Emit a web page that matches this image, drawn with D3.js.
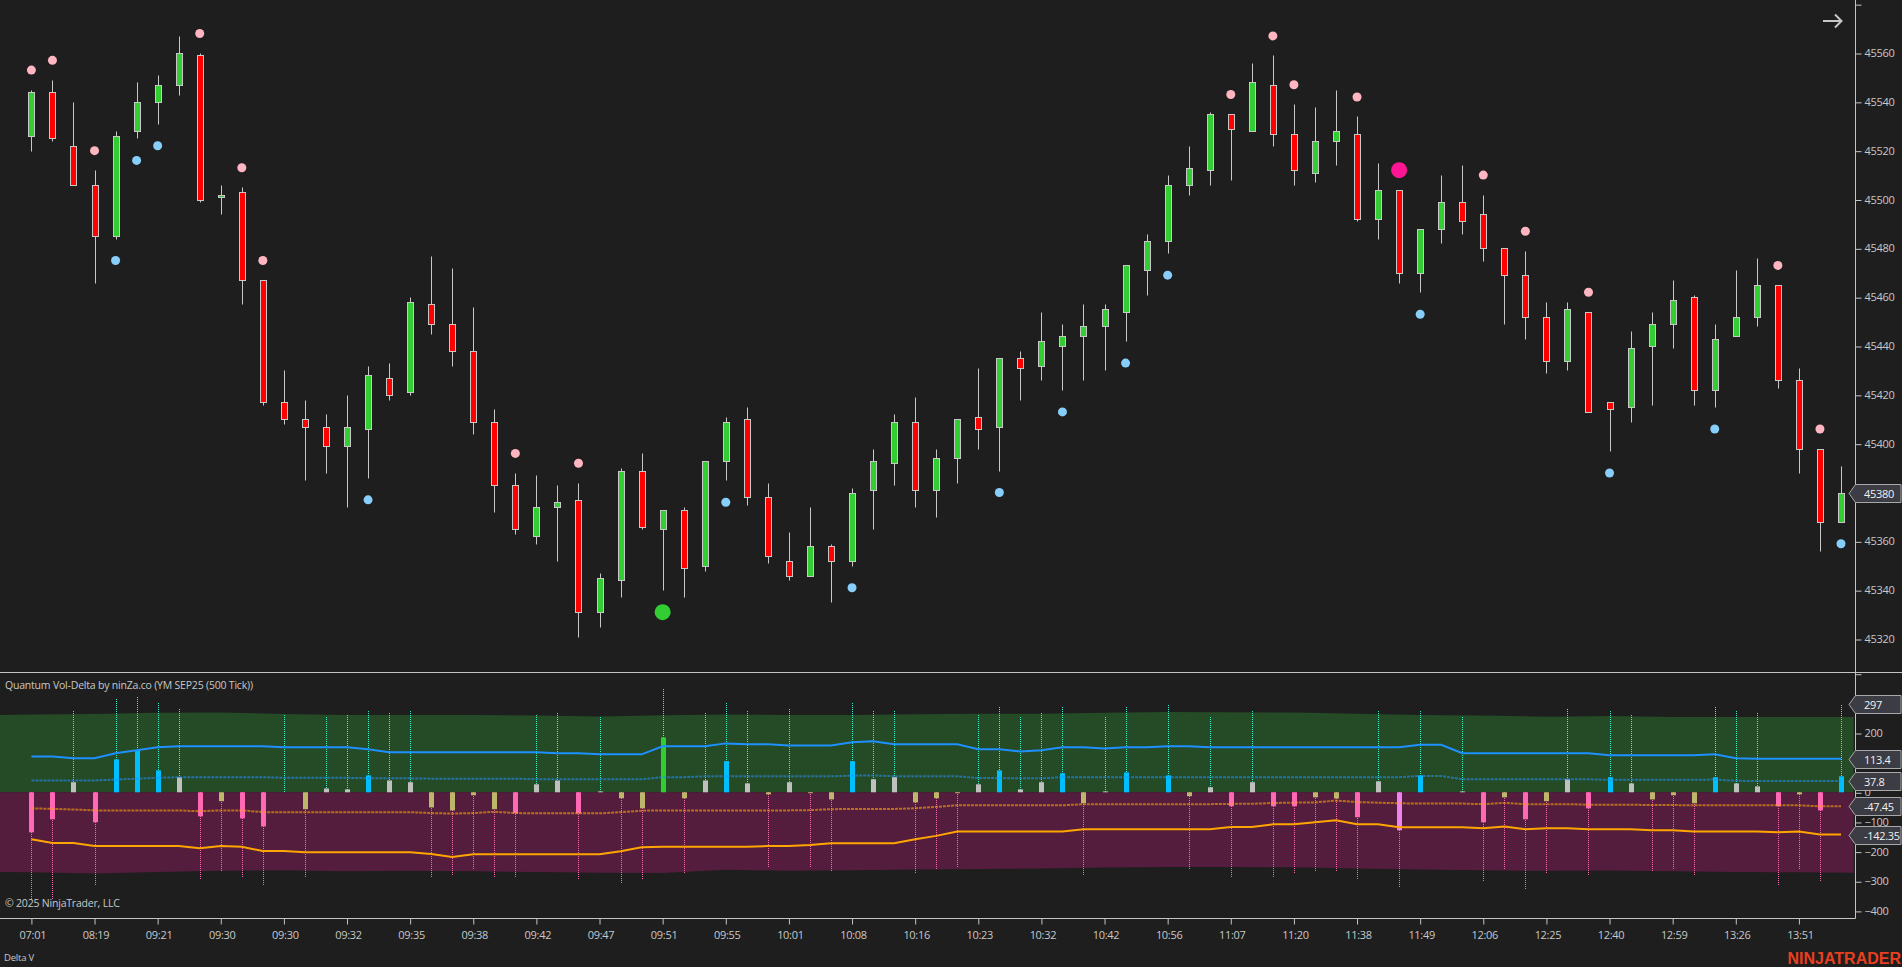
<!DOCTYPE html>
<html>
<head>
<meta charset="utf-8">
<title>YM SEP25 (500 Tick)</title>
<script src="https://cdn.jsdelivr.net/npm/d3@7"></script>
<style>
  html, body { margin: 0; padding: 0; background: #1e1e1e; overflow: hidden; }
  svg { display: block; }
  text { font-family: "Open Sans", sans-serif; }
</style>
</head>
<body>
<div id="app"></div>
<script>
// candles, one entry per bar
const opens = [45526,45544,45522,45506,45485,45528,45540,45547,45559,45501,
  45503,45467,45417,45410,45407,45399,45406,45427,45421,45457,
  45449,45438,45409,45383,45362,45374,45377,45331,45344,45389,
  45365,45373,45350,45393,45410,45378,45352,45346,45358,45352,
  45381,45392,45409,45381,45394,45411,45407,45435,45432,45440,
  45444,45448,45454,45471,45483,45506,45512,45535,45528,45547,
  45527,45511,45524,45527,45492,45504,45470,45488,45499,45494,
  45480,45469,45452,45434,45454,45417,45415,45440,45449,45460,
  45422,45444,45452,45465,45426,45398,45368]
const highs = [45545,45549,45540,45512,45528,45548,45551,45567,45560,45506,
  45505,45467,45430,45418,45412,45420,45432,45433,45460,45477,
  45472,45456,45414,45388,45387,45383,45384,45347,45390,45396,
  45373,45374,45393,45411,45415,45384,45364,45374,45359,45382,
  45398,45412,45419,45398,45410,45431,45435,45438,45454,45449,
  45457,45457,45473,45486,45510,45522,45536,45535,45556,45559,
  45539,45538,45545,45534,45515,45504,45488,45510,45514,45502,
  45480,45479,45458,45458,45454,45417,45446,45454,45467,45461,
  45449,45471,45476,45465,45431,45398,45391]
const lows = [45520,45524,45506,45466,45484,45525,45531,45543,45499,45494,
  45457,45416,45408,45385,45388,45374,45386,45418,45420,45445,
  45432,45404,45372,45363,45359,45352,45321,45325,45337,45365,
  45340,45337,45348,45385,45375,45351,45344,45346,45335,45350,
  45365,45383,45374,45370,45384,45398,45389,45418,45426,45422,
  45426,45430,45442,45461,45478,45502,45506,45508,45528,45522,
  45506,45507,45514,45491,45484,45466,45462,45482,45486,45475,
  45449,45443,45429,45430,45413,45397,45409,45416,45439,45416,
  45415,45444,45448,45423,45388,45356,45368]
const closes = [45544,45525,45506,45485,45526,45540,45547,45560,45500,45502,
  45467,45417,45410,45407,45399,45407,45428,45420,45458,45449,
  45438,45409,45383,45365,45374,45376,45331,45345,45389,45366,
  45373,45349,45393,45409,45378,45354,45346,45358,45352,45380,
  45393,45409,45381,45394,45410,45406,45435,45431,45442,45444,
  45448,45455,45473,45483,45506,45513,45535,45529,45548,45527,
  45512,45524,45528,45492,45504,45470,45488,45499,45491,45480,
  45469,45452,45434,45455,45413,45414,45439,45449,45459,45422,
  45443,45452,45465,45426,45398,45368,45380]

// signal dots [bar, price]
const pinkDots = [[0,45553],[1,45557],[3,45520],[8,45568],[10,45513],[11,45475],[23,45396],[26,45392],
  [57,45543],[59,45567],[60,45547],[63,45542],[69,45510],[71,45487],[74,45462],[83,45473],[85,45406]]
const blueDots = [[4,45475],[5,45516],[6,45522],[16,45377],[33,45376],[39,45341],[46,45380],[49,45413],
  [52,45433],[54,45469],[66,45453],[75,45388],[80,45406],[86,45359]]
const bigDots = [[30,45331,"#32cd32"],[65,45512,"#ff1493"]]

// lower panel, delta bars
const deltaVals = [-135,-91,34,-101,111,142,74,51,-81,-30,
  -88,-115,null,-57,13,10,57,40,34,-51,
  -61,-10,-57,-71,27,40,-71,3,-20,-54,
  185,-20,40,105,30,-7,34,-3,-24,105,
  44,51,-34,-20,-3,27,74,10,34,64,
  -37,3,67,null,57,-13,17,-47,34,-47,
  -47,-17,-21,-84,37,-128,57,null,3,-101,
  -17,-91,-30,44,-54,51,30,-24,-10,-37,
  51,30,20,-47,-7,-61,54]
const deltaKinds = "ppgpbbbgpk" + "pp-kggbggk" + "kkkpggpgkk" + "lkgbgkgkkb" + "ggkkkgbggb" +
  "kgb-bkgpgp" + "pkkpgvb-gp" + "kpkgpbgkkk" + "bggpkpb"
const deltaExtremes = [-364,-364,279,-317,319,326,306,285,-297,-270,
  -290,-317,265,-290,259,265,279,272,279,-290,
  -283,-263,-290,-290,265,272,-297,259,-310,-297,
  353,-276,272,306,279,-256,285,-256,-270,306,
  279,279,-276,-263,-256,265,292,259,272,292,
  -283,259,292,null,299,-263,259,-290,279,-290,
  -276,-270,-270,-297,279,-324,279,null,259,-303,
  -263,-330,-276,285,-283,279,265,-270,-263,-283,
  292,279,272,-317,-263,-303,297]

// lower panel, lines
const upperLine = [121,121,115,115,132,142,152,155,155,155,
  155,155,152,152,152,152,145,135,135,135,
  135,135,135,135,135,132,132,128,128,128,
  155,155,155,165,162,162,158,158,158,169,
  172,162,162,162,162,145,145,138,142,152,
  152,148,152,152,155,155,152,152,152,152,
  152,152,152,152,152,152,160,160,132,132,
  132,132,132,132,132,125,125,125,125,125,
  128,115,113.4,113.4,113.4,113.4,113.4]
const upperDash = [40,40,40,40,43,46,49,51,51,51,
  51,51,49,49,49,49,47,47,47,46,
  46,46,46,46,44,44,44,44,44,44,
  51,51,54,54,54,54,54,54,54,56,
  57,54,54,54,54,48,48,47,47,51,
  51,51,51,51,51,51,51,51,51,51,
  51,51,51,51,51,51,55,55,44,44,
  44,44,44,44,44,42,42,42,42,42,
  43,39,37.8,37.8,37.8,37.8,37.8]
const lowerLine = [-158,-171,-171,-181,-181,-181,-181,-181,-189,-181,
  -184,-198,-198,-202,-202,-202,-202,-202,-202,-208,
  -218,-209,-209,-209,-209,-209,-209,-209,-199,-185,
  -184,-184,-184,-184,-184,-181,-181,-178,-172,-172,
  -172,-172,-158,-147,-132,-132,-132,-132,-132,-132,
  -125,-125,-125,-125,-125,-125,-125,-117,-117,-108,
  -108,-101,-94,-108,-108,-118,-118,-118,-118,-121,
  -115,-125,-121,-121,-125,-125,-125,-128,-128,-132,
  -132,-132,-132,-135,-132,-142.35,-142.35]
const lowerDash = [-54,-56,-58,-61,-61,-61,-61,-61,-64,-61,
  -61,-67,-67,-67,-67,-67,-67,-67,-67,-70,
  -72,-70,-66,-70,-71,-71,-71,-71,-67,-62,
  -61,-61,-61,-61,-61,-61,-61,-60,-57,-56,
  -56,-56,-54,-49,-44,-44,-44,-44,-44,-44,
  -40,-40,-40,-40,-40,-40,-40,-39,-39,-36,
  -35,-34,-28,-33,-35,-37,-38,-38,-38,-40,
  -36,-40,-40,-40,-42,-42,-42,-43,-43,-44,
  -44,-44,-44,-44,-44,-47.45,-47.45]

// bands, read every third bar and at both ends of the panel
const bandBars = [-1.5,0,3,6,9,12,15,18,21,24,27,30,33,36,39,42,45,48,51,54,57,60,63,66,69,72,75,78,81,84,86.6]
const bandTop = [261,262,264,268,269,264,261,261,261,259,256,260,262,261,261,263,265,265,268,271,270,269,265,261,259,255,257,254,254,254,254]
const bandBottom = [-269,-270,-274,-269,-265,-263,-266,-265,-266,-269,-271,-272,-261,-265,-263,-260,-259,-257,-254,-252,-252,-253,-257,-260,-263,-265,-264,-266,-269,-270,-271]

// axes
const timeTicks = [0,3,6,9,12,15,18,21,24,27,30,33,36,39,42,45,48,51,54,57,60,63,66,69,72,75,78,81,84]
const timeLabels = ["07:01","08:19","09:21","09:30","09:30","09:32","09:35","09:38","09:42","09:47",
  "09:51","09:55","10:01","10:08","10:16","10:23","10:32","10:42","10:56","11:07",
  "11:20","11:38","11:49","12:06","12:25","12:40","12:59","13:26","13:51"]
const priceTicks = [45320,45340,45360,45380,45400,45420,45440,45460,45480,45500,45520,45540,45560,45580]
const deltaTicks = [400,300,200,100,0,-100,-200,-300,-400]
const deltaHiddenLabels = [400,300,100] // tick only, the tags sit on these
const deltaTagLabels = ["297","113.4","37.8","-47.45","-142.35"]
const deltaTagValues = [297,113.4,37.8,-47.45,-142.35]
const priceTagLabel = "45380"

const axisColor = "#c4c4c4"
const textColor = "#c8c8c8"
const kindColors = { g: "#c0c0c0", b: "#00bfff", l: "#32cd32", k: "#bdb76b", p: "#ff69b4", v: "#ee82ee" }

const width = 1902
const height = 967
const axisX = 1855.5
const sepY = 672.5
const bottomY = 918.5

const svg = d3.select("#app").append("svg")
  .attr("width", width)
  .attr("height", height)

svg.append("rect").attr("width", width).attr("height", height).attr("fill", "#1e1e1e")

const xScale = d3.scaleLinear().domain([0, 86]).range([31.4, 1841])
const yPrice = d3.scaleLinear().domain([45320, 45560]).range([639, 53])
const yDelta = d3.scaleLinear().domain([-400, 400]).range([910.9, 673.7])

const px = i => Math.round(xScale(i)) + 0.5
const py = p => Math.round(yPrice(p)) + 0.5

// ---- price panel ----
const bars = d3.range(opens.length)

svg.append("g").selectAll("line")
  .data(bars)
  .join("line")
  .attr("x1", px).attr("x2", px)
  .attr("y1", i => py(highs[i]))
  .attr("y2", i => py(lows[i]))
  .attr("stroke", "#c8c8c8")
  .attr("stroke-width", 1)

svg.append("g").selectAll("rect")
  .data(bars)
  .join("rect")
  .attr("x", i => px(i) - 3)
  .attr("width", 6)
  .attr("y", i => py(Math.max(opens[i], closes[i])))
  .attr("height", i => Math.max(1, py(Math.min(opens[i], closes[i])) - py(Math.max(opens[i], closes[i]))))
  .attr("fill", i => closes[i] >= opens[i] ? "#32cd32" : "#ff0000")
  .attr("stroke", "#c8c8c8")
  .attr("stroke-width", 1)

const dots = svg.append("g")
dots.selectAll(".pink").data(pinkDots).join("circle")
  .attr("class", "pink")
  .attr("cx", d => xScale(d[0])).attr("cy", d => yPrice(d[1])).attr("r", 4.5)
  .attr("fill", "#ffb6c1")
dots.selectAll(".blue").data(blueDots).join("circle")
  .attr("class", "blue")
  .attr("cx", d => xScale(d[0])).attr("cy", d => yPrice(d[1])).attr("r", 4.5)
  .attr("fill", "#87cefa")
dots.selectAll(".big").data(bigDots).join("circle")
  .attr("class", "big")
  .attr("cx", d => xScale(d[0])).attr("cy", d => yPrice(d[1])).attr("r", 8)
  .attr("fill", d => d[2])

// the little arrow in the top right corner
svg.append("path")
  .attr("d", "M1823,21H1841M1835,14.5L1841.5,21L1835,27.5")
  .attr("fill", "none")
  .attr("stroke", "#c8c8c8")
  .attr("stroke-width", 2)

// ---- delta panel ----
const band = (fill, values) => svg.append("path")
  .datum(bandBars)
  .attr("fill", fill)
  .attr("d", d3.area()
    .x(b => xScale(b))
    .y0(yDelta(0))
    .y1((b, i) => yDelta(values[i])))

band("#244a26", bandTop)
band("#551d3d", bandBottom)

const withDelta = bars.filter(i => deltaExtremes[i] !== null)

// whole pixels here or the dots smear into a solid line
svg.append("g").selectAll("line")
  .data(withDelta)
  .join("line")
  .attr("x1", px).attr("x2", px)
  .attr("y1", Math.round(yDelta(0)))
  .attr("y2", i => Math.round(yDelta(deltaExtremes[i])))
  .attr("stroke", i => deltaExtremes[i] > 0 ? "#30f5d0" : "#ff69b4")
  .attr("stroke-width", 1)
  .attr("stroke-dasharray", "1 1")

svg.append("g").selectAll("rect")
  .data(bars.filter(i => deltaVals[i] !== null))
  .join("rect")
  .attr("x", i => px(i) - 2.5)
  .attr("width", 5)
  .attr("y", i => yDelta(Math.max(0, deltaVals[i])))
  .attr("height", i => Math.abs(yDelta(deltaVals[i]) - yDelta(0)))
  .attr("fill", i => kindColors[deltaKinds[i]])

const deltaLine = d3.line().x((v, i) => xScale(i)).y(v => yDelta(v))

const drawLine = (values, color, dash, opacity) => svg.append("path")
  .datum(values)
  .attr("fill", "none")
  .attr("stroke", color)
  .attr("stroke-width", 2)
  .attr("stroke-dasharray", dash)
  .attr("opacity", opacity)
  .attr("d", deltaLine)

drawLine(upperDash, "#1e90ff", "3 1", 0.6)
drawLine(lowerDash, "#ffa500", "3 1", 0.6)
drawLine(upperLine, "#1e90ff", null, 1)
drawLine(lowerLine, "#ffa500", null, 1)

// ---- frame and axes ----
svg.append("line").attr("x1", 0).attr("x2", width).attr("y1", sepY).attr("y2", sepY)
  .attr("stroke", axisColor)

const priceAxis = d3.axisRight(yPrice).tickValues(priceTicks).tickSize(6).tickPadding(3)
  .tickFormat(d => d === 45580 ? "" : d3.format("d")(d))
const gPrice = svg.append("g").attr("transform", `translate(${axisX},0)`).call(priceAxis)

const deltaAxis = d3.axisRight(yDelta).tickValues(deltaTicks).tickSize(6).tickPadding(3)
  .tickFormat(d => deltaHiddenLabels.includes(d) ? "" : d3.format("d")(d))
const gDelta = svg.append("g").attr("transform", `translate(${axisX},0)`).call(deltaAxis)

const timeAxis = d3.axisBottom(xScale).tickValues(timeTicks).tickSize(6).tickPadding(7)
  .tickFormat((d, i) => timeLabels[i])
const gTime = svg.append("g").attr("transform", `translate(0,${bottomY})`).call(timeAxis)

for (const g of [gPrice, gDelta, gTime]) {
  g.select(".domain").remove()
  g.selectAll("line").attr("stroke", axisColor)
  g.selectAll("text").attr("fill", textColor).attr("font-size", 11)
    .attr("font-family", '"Open Sans", sans-serif').attr("letter-spacing", -0.3)
}
gPrice.selectAll(".tick line").attr("y1", 0.5).attr("y2", 0.5)
gDelta.selectAll(".tick line").attr("y1", 0.5).attr("y2", 0.5)
gTime.selectAll(".tick text").attr("dx", 1)

svg.append("line").attr("x1", axisX).attr("x2", axisX).attr("y1", 0).attr("y2", bottomY).attr("stroke", axisColor)
svg.append("line").attr("x1", 0).attr("x2", axisX).attr("y1", bottomY).attr("y2", bottomY).attr("stroke", axisColor)

// value tags on the right axis
const drawTag = (y, label) => {
  const cy = Math.round(y) + 0.5
  svg.append("path")
    .attr("d", `M${axisX - 6.5},${cy}L${axisX},${cy - 9}H${width - 1}V${cy + 9}H${axisX}Z`)
    .attr("fill", "#3c3c44")
    .attr("stroke", "#a8a8a8")
  svg.append("text")
    .attr("x", 1864)
    .attr("y", cy + 4)
    .attr("fill", "#f2f2f2")
    .attr("font-size", 11)
    .attr("letter-spacing", -0.3)
    .text(label)
}
drawTag(yPrice(45380), priceTagLabel)
deltaTagValues.forEach((v, i) => drawTag(yDelta(v), deltaTagLabels[i]))

// ---- captions ----
const caption = (x, y, str, size) => svg.append("text")
  .attr("x", x).attr("y", y)
  .attr("fill", textColor)
  .attr("font-size", size)
  .attr("letter-spacing", -0.2)
  .text(str)

caption(5, 689, "Quantum Vol-Delta by ninZa.co (YM SEP25 (500 Tick))", 10.5)
caption(5, 907, "© 2025 NinjaTrader, LLC", 10.5)
caption(4, 961, "Delta V", 9.5)

svg.append("text")
  .attr("x", 1901)
  .attr("y", 964)
  .attr("text-anchor", "end")
  .attr("fill", "#e8401f")
  .attr("font-size", 16)
  .attr("font-weight", 700)
  .style("font-family", '"Liberation Sans", sans-serif')
  .text("NINJATRADER")
</script>
</body>
</html>
